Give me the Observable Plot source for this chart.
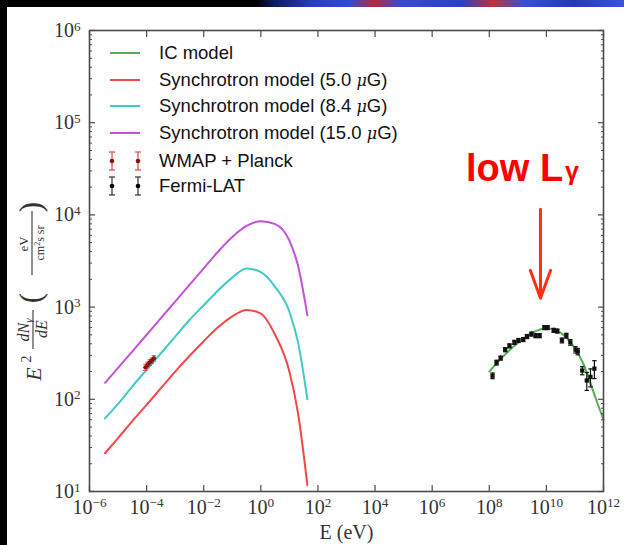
<!DOCTYPE html>
<html><head><meta charset="utf-8">
<script src="https://cdn.jsdelivr.net/npm/d3@7"></script>
<script src="https://cdn.jsdelivr.net/npm/@observablehq/plot@0.6"></script>
<style>
body{margin:0;background:#fff}
#wrap{position:relative;width:624px;height:545px;overflow:hidden;background:#fff;font-family:"Liberation Sans",Arial,sans-serif}
#chart svg{position:absolute;left:0;top:0}
#leftband{position:absolute;left:0;top:0;width:7px;height:545px;background:#000}
#topband{position:absolute;left:0;top:0;width:624px;height:7px;
 background:linear-gradient(90deg,#000 0,#000 41%,#101a60 44%,#2a3cc0 50%,#3348d8 56%,#b8283a 60%,#3a4ad0 64%,#2d40c8 74%,#c0303a 79%,#3550d8 84%,#2638b8 92%,#3a54e0 100%)}
#legend{position:absolute;left:104px;top:40px;font-size:18.5px;color:#111}
#legend .row{position:absolute;left:0;white-space:nowrap;height:22px;line-height:22px}
#legend .row svg{position:absolute;left:0;top:-4px}
#legend .row span{position:absolute;left:55px;top:0}
#legend i{font-family:"DejaVu Serif","Liberation Serif",serif;font-size:16px}
#anno{position:absolute;left:466px;top:147px;color:#ff0000;font-weight:bold;font-size:38px;font-family:"Liberation Sans",Arial,sans-serif;white-space:nowrap}
#anno span{font-size:25px;position:relative;top:-1px;margin-left:2px}
</style></head><body>
<div id="wrap">
 <div id="chart"></div>
 <div id="leftband"></div><div id="topband"></div>
 <div id="legend"></div>
 <div id="anno">low L<span>γ</span></div>
</div>
<script>
// ---- data ----
const energySync = [3.5e-6, 1e-5, 3.16e-5, 1e-4, 3.16e-4, 1e-3, 3.16e-3, 0.01, 0.0316, 0.1, 0.316, 1, 3.16, 10, 20, 42.7];
const sync5uG  = [26, 38, 58, 87, 132, 200, 295, 427, 603, 794, 933, 851, 501, 200, 71, 11.7];
const sync8uG  = [62, 89, 138, 209, 316, 479, 724, 1047, 1514, 2089, 2630, 2400, 1660, 891, 417, 100];
const sync15uG = [151, 219, 331, 501, 759, 1148, 1738, 2630, 3981, 5754, 7586, 8511, 7943, 5248, 2818, 813];

const energyIC = [1e8, 3.16e8, 1e9, 3.16e9, 1e10, 3.16e10, 1e11, 2e11, 4e11, 6.3e11, 1e12];
const fluxIC   = [200, 295, 407, 525, 590, 525, 355, 240, 132, 89, 60];

const wmapE    = [9.1e-5, 1.08e-4, 1.27e-4, 1.5e-4, 1.8e-4];
const wmapFlux = [222, 236, 250, 262, 278];
const wmapLo   = [205, 219, 233, 245, 260];
const wmapHi   = [240, 253, 268, 280, 297];

const fermiE    = [1.3e8, 1.8e8, 2.5e8, 3.6e8, 5.1e8, 7.6e8, 1.05e9, 1.55e9, 2.1e9, 3.0e9, 4.2e9, 5.8e9, 8.5e9, 1.1e10, 1.8e10, 2.4e10, 3.5e10, 5.0e10, 6.9e10, 1.05e11, 1.26e11, 1.8e11, 2.6e11, 3.5e11, 4.8e11];
const fermiFlux = [180, 250, 280, 345, 380, 415, 435, 445, 480, 510, 490, 490, 600, 600, 560, 550, 435, 490, 415, 345, 330, 205, 160, 175, 215];
const fermiRel  = [0.07, 0.06, 0.05, 0.05, 0.05, 0.05, 0.05, 0.05, 0.05, 0.05, 0.05, 0.05, 0.05, 0.05, 0.05, 0.05, 0.06, 0.06, 0.07, 0.08, 0.08, 0.1, 0.22, 0.22, 0.22];

const xTicks = [1e-6, 1e-4, 1e-2, 1e0, 1e2, 1e4, 1e6, 1e8, 1e10, 1e12];
const yTicks = [1e1, 1e2, 1e3, 1e4, 1e5, 1e6];

const seriesNames = ["IC model", "Synchrotron model (5.0 μG)", "Synchrotron model (8.4 μG)", "Synchrotron model (15.0 μG)", "WMAP + Planck", "Fermi-LAT"];
const colors = {ic: "#55b055", s5: "#f44848", s8: "#3fc9c9", s15: "#c650dc", wmap: "#f04040", wmapDot: "#8b1010", fermi: "#111"};

// ---- tables ----
const syncRows = (vals) => energySync.map((E, i) => ({E, F: vals[i]}));
const icRows = energyIC.map((E, i) => ({E, F: fluxIC[i]}));
const wmapRows = wmapE.map((E, i) => ({E, F: wmapFlux[i], lo: wmapLo[i], hi: wmapHi[i]}));
const fermiRows = fermiE.map((E, i) => ({E, F: fermiFlux[i], lo: fermiFlux[i] * (1 - fermiRel[i]), hi: fermiFlux[i] * (1 + fermiRel[i])}));
const minorY = [];
for (let k = 1; k < 6; k++) for (let m = 2; m < 10; m++) minorY.push(m * 10 ** k);

const cap = {draw(ctx, size) { const w = Math.sqrt(size) / 2; ctx.moveTo(-w, 0); ctx.lineTo(w, 0); }};
const sup = (d) => "10^" + Math.round(Math.log10(d));
const axisColor = "#4a4a4a";

const chart = Plot.plot({
  width: 624, height: 545,
  marginLeft: 89, marginRight: 21, marginTop: 30, marginBottom: 54,
  style: {background: "transparent", fontFamily: "'Liberation Serif','DejaVu Serif',serif", fontSize: "20px", color: "#333"},
  x: {type: "log", domain: [1e-6, 1e12]},
  y: {type: "log", domain: [10, 1e6]},
  marks: [
    Plot.line(syncRows(sync5uG), {x: "E", y: "F", stroke: colors.s5, strokeWidth: 2, curve: "monotone-x"}),
    Plot.line(syncRows(sync8uG), {x: "E", y: "F", stroke: colors.s8, strokeWidth: 2, curve: "monotone-x"}),
    Plot.line(syncRows(sync15uG), {x: "E", y: "F", stroke: colors.s15, strokeWidth: 2, curve: "monotone-x"}),
    Plot.line(icRows, {x: "E", y: "F", stroke: colors.ic, strokeWidth: 2, curve: "monotone-x"}),
    Plot.ruleX(wmapRows, {x: "E", y1: "lo", y2: "hi", stroke: colors.wmap, strokeWidth: 1}),
    Plot.dot(wmapRows, {x: "E", y: "lo", symbol: cap, r: 2.5, stroke: colors.wmap, strokeWidth: 1}),
    Plot.dot(wmapRows, {x: "E", y: "hi", symbol: cap, r: 2.5, stroke: colors.wmap, strokeWidth: 1}),
    Plot.dot(wmapRows, {x: "E", y: "F", r: 2.2, fill: colors.wmapDot}),
    Plot.ruleX(fermiRows, {x: "E", y1: "lo", y2: "hi", stroke: colors.fermi, strokeWidth: 1.2}),
    Plot.dot(fermiRows, {x: "E", y: "lo", symbol: cap, r: 2.5, stroke: colors.fermi, strokeWidth: 1.2}),
    Plot.dot(fermiRows, {x: "E", y: "hi", symbol: cap, r: 2.5, stroke: colors.fermi, strokeWidth: 1.2}),
    Plot.dot(fermiRows, {x: "E", y: "F", symbol: "square", r: 2.4, fill: colors.fermi}),
    Plot.frame({stroke: axisColor, strokeWidth: 1.6}),
    Plot.axisX({anchor: "bottom", ticks: xTicks, tickSize: -6, tickFormat: () => "", label: null, stroke: axisColor, strokeWidth: 1.2}),
    Plot.axisX({anchor: "top", ticks: xTicks, tickSize: -6, tickFormat: () => "", label: null, stroke: axisColor, strokeWidth: 1.2}),
    Plot.axisX({anchor: "bottom", ticks: xTicks, tickSize: 0, tickPadding: 8, tickFormat: sup, label: "E (eV)", labelAnchor: "center", labelArrow: "none", labelOffset: 47, fill: "#333"}),
    Plot.axisY({anchor: "left", ticks: yTicks, tickSize: -6, tickFormat: () => "", label: null, stroke: axisColor, strokeWidth: 1.2}),
    Plot.axisY({anchor: "right", ticks: yTicks, tickSize: -6, tickFormat: () => "", label: null, stroke: axisColor, strokeWidth: 1.2}),
    Plot.axisY({anchor: "left", ticks: minorY, tickSize: -3, tickFormat: () => "", label: null, stroke: axisColor, strokeWidth: 1}),
    Plot.axisY({anchor: "right", ticks: minorY, tickSize: -3, tickFormat: () => "", label: null, stroke: axisColor, strokeWidth: 1}),
    Plot.axisY({anchor: "left", ticks: yTicks, tickSize: 0, tickPadding: 9, tickFormat: sup, label: null, fill: "#333"}),
    Plot.arrow([{E: 6.2e9, from: 1.15e4, to: 1.25e3}], {x: "E", y1: "from", y2: "to", stroke: "#ff3014", strokeWidth: 3, headLength: 24, headAngle: 40})
  ]
});
document.getElementById("chart").append(chart);

// superscript exponents in tick labels
d3.select(chart).selectAll("text").each(function () {
  const t = this.textContent;
  const m = /^10\^(-?\d+)$/.exec(t);
  if (!m) return;
  const el = d3.select(this);
  el.text("");
  el.append("tspan").text("10");
  el.append("tspan").attr("dy", "-0.48em").attr("font-size", "0.66em").text(m[1].replace("-", "−"));
});

// y-axis label (math-style), drawn as text
const svg = d3.select(chart);
const g = svg.append("g").attr("transform", "translate(31,281) rotate(-90)")
  .attr("font-family", "'Liberation Serif','DejaVu Serif',serif").attr("fill", "#333");
g.append("text").attr("x", -93).attr("y", 10).attr("font-size", 22).attr("font-style", "italic").text("E");
g.append("text").attr("x", -78).attr("y", 0).attr("font-size", 14).text("2");
const n1 = g.append("text").attr("x", -49).attr("y", -2).attr("text-anchor", "middle").attr("font-size", 16).attr("font-style", "italic");
n1.append("tspan").text("dN");
n1.append("tspan").attr("dy", 3).attr("font-size", 11).text("γ");
g.append("line").attr("x1", -68).attr("x2", -29).attr("y1", 2).attr("y2", 2).attr("stroke", "#333").attr("stroke-width", 1.1);
g.append("text").attr("x", -48).attr("y", 16).attr("text-anchor", "middle").attr("font-size", 16).attr("font-style", "italic").text("dE");
g.append("text").attr("x", -17).attr("y", 10).attr("font-size", 31).text("(");
g.append("text").attr("x", 37).attr("y", -3).attr("text-anchor", "middle").attr("font-size", 13).text("eV");
g.append("line").attr("x1", 6).attr("x2", 70).attr("y1", 1).attr("y2", 1).attr("stroke", "#333").attr("stroke-width", 1.1);
const d2 = g.append("text").attr("x", 38).attr("y", 13).attr("text-anchor", "middle").attr("font-size", 12);
d2.append("tspan").text("cm");
d2.append("tspan").attr("dy", -4).attr("font-size", 8).text("2");
d2.append("tspan").attr("dy", 4).text("s sr");
g.append("text").attr("x", 74).attr("y", 10).attr("font-size", 31).text(")");

// legend
const legend = d3.select("#legend");
const legendKinds = [
  {kind: "line", color: colors.ic}, {kind: "line", color: colors.s5}, {kind: "line", color: colors.s8},
  {kind: "line", color: colors.s15}, {kind: "err", color: colors.wmap, dot: colors.wmapDot}, {kind: "err", color: "#333", dot: "#000"}
];
const rowTops = [2, 29, 55, 82, 110, 135];
seriesNames.forEach((name, i) => {
  const k = legendKinds[i];
  const row = legend.append("div").attr("class", "row").style("top", rowTops[i] + "px");
  const s = row.append("svg").attr("width", 40).attr("height", 30);
  if (k.kind === "line") {
    s.append("line").attr("x1", 6).attr("x2", 36).attr("y1", 15).attr("y2", 15).attr("stroke", k.color).attr("stroke-width", 2);
  } else {
    for (const cx of [8, 34]) {
      s.append("line").attr("x1", cx).attr("x2", cx).attr("y1", 6).attr("y2", 24).attr("stroke", k.color).attr("stroke-width", 1.2);
      s.append("line").attr("x1", cx - 3).attr("x2", cx + 3).attr("y1", 6).attr("y2", 6).attr("stroke", k.color).attr("stroke-width", 1.2);
      s.append("line").attr("x1", cx - 3).attr("x2", cx + 3).attr("y1", 24).attr("y2", 24).attr("stroke", k.color).attr("stroke-width", 1.2);
      s.append("circle").attr("cx", cx).attr("cy", 15).attr("r", 2.3).attr("fill", k.dot);
    }
  }
  const span = row.append("span");
  const mm = /^(.*\()(.*) μG\)$/.exec(name);
  if (mm) span.html(mm[1] + mm[2] + " <i>μ</i>G)");
  else span.text(name);
});
</script>
</body></html>
